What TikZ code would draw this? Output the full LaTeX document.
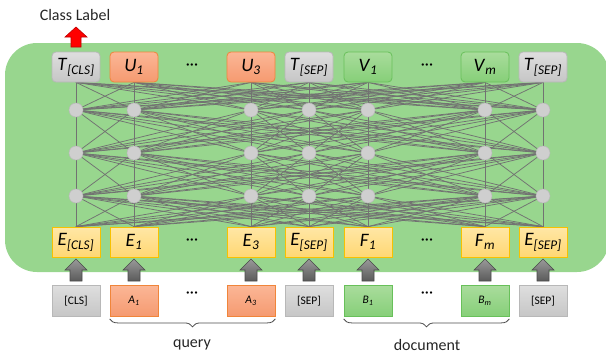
\documentclass[tikz,border=0pt]{standalone}
\usepackage{fontspec}
\setmainfont{Carlito}
\usetikzlibrary{decorations.pathreplacing,calc}
\definecolor{bggreen}{HTML}{98D68E}
\definecolor{lineg}{HTML}{727272}
\definecolor{grayT}{HTML}{DEDEDE}
\definecolor{grayB}{HTML}{C6C6C6}
\definecolor{grayD}{HTML}{B8B8B8}
\definecolor{orT}{HTML}{FBB696}
\definecolor{orB}{HTML}{F59A70}
\definecolor{orD}{HTML}{F0853A}
\definecolor{grT}{HTML}{A9DC9C}
\definecolor{grB}{HTML}{86CF78}
\definecolor{grD}{HTML}{68C05A}
\definecolor{yeT}{HTML}{FFE7A6}
\definecolor{yeB}{HTML}{FFD773}
\definecolor{yeD}{HTML}{F7C100}
\definecolor{arT}{HTML}{9A9A9A}
\definecolor{arB}{HTML}{5A5A5A}
\definecolor{arD}{HTML}{4A4A4A}
\pgfdeclarelayer{back}
\pgfsetlayers{back,main}
\begin{document}
\begin{tikzpicture}[x=1pt,y=-1pt,
  box/.style={minimum width=48pt,minimum height=30pt,inner sep=0pt,line width=0.8pt},
  tbox/.style={box,rounded corners=4pt},
  gbox/.style={top color=grayT,bottom color=grayB,draw=grayD},
  obox/.style={top color=orT,bottom color=orB,draw=orD},
  vbox/.style={top color=grT,bottom color=grB,draw=grD},
  ybox/.style={top color=yeT,bottom color=yeB,draw=yeD},
  big/.style={font=\fontsize{19}{20}\selectfont},
  small/.style={font=\fontsize{11.5}{12}\selectfont},
  neuron/.style={circle,minimum size=14pt,inner sep=0pt,fill=gray!38,draw=gray!55,line width=0.5pt},
  conn/.style={draw=lineg,line width=0.75pt},
  garr/.style={top color=arT,bottom color=arB,draw=arD,line width=0.6pt},
  lbl/.style={font=\fontsize{16}{18}\selectfont,text=black!85},
  dots/.style={font=\fontsize{16}{18}\selectfont}
]
\useasboundingbox (0,0) rectangle (606,356);
\begin{pgfonlayer}{back}
\fill[bggreen,rounded corners=32pt] (5,43) rectangle (609,272);
\end{pgfonlayer}

% top row
\node[tbox,gbox,big] (t1) at (76,67) {\textit{T}\textsubscript{\textit{[CLS]}}};
\node[tbox,obox,big] (t2) at (134,67) {\textit{U}\textsubscript{\textit{1}}};
\node[tbox,obox,big] (t3) at (251,67) {\textit{U}\textsubscript{\textit{3}}};
\node[tbox,gbox,big] (t4) at (309,67) {\textit{T}\textsubscript{\textit{[SEP]}}};
\node[tbox,vbox,big] (t5) at (368,67) {\textit{V}\textsubscript{\textit{1}}};
\node[tbox,vbox,big] (t6) at (485,67) {\textit{V}\textsubscript{\textit{m}}};
\node[tbox,gbox,big] (t7) at (543,67) {\textit{T}\textsubscript{\textit{[SEP]}}};
\node[dots] (td1) at (192,67) {···};
\node[dots] (td2) at (427,67) {···};

% embedding row
\node[box,ybox,big] (e1) at (76,242) {\textit{E}\textsubscript{\textit{[CLS]}}};
\node[box,ybox,big] (e2) at (134,242) {\textit{E}\textsubscript{\textit{1}}};
\node[box,ybox,big] (e3) at (251,242) {\textit{E}\textsubscript{\textit{3}}};
\node[box,ybox,big] (e4) at (309,242) {\textit{E}\textsubscript{\textit{[SEP]}}};
\node[box,ybox,big] (e5) at (368,242) {\textit{F}\textsubscript{\textit{1}}};
\node[box,ybox,big] (e6) at (485,242) {\textit{F}\textsubscript{\textit{m}}};
\node[box,ybox,big] (e7) at (543,242) {\textit{E}\textsubscript{\textit{[SEP]}}};
\node[dots] (ed1) at (192,242) {···};
\node[dots] (ed2) at (427,242) {···};

% input row
\node[box,gbox,small,minimum height=31pt] (i1) at (76,301) {[CLS]};
\node[box,obox,small,minimum height=31pt] (i2) at (134,301) {\textit{A}\textsubscript{\textit{1}}};
\node[box,obox,small,minimum height=31pt] (i3) at (251,301) {\textit{A}\textsubscript{\textit{3}}};
\node[box,gbox,small,minimum height=31pt] (i4) at (309,301) {[SEP]};
\node[box,vbox,small,minimum height=31pt] (i5) at (368,301) {\textit{B}\textsubscript{\textit{1}}};
\node[box,vbox,small,minimum height=31pt] (i6) at (485,301) {\textit{B}\textsubscript{\textit{m}}};
\node[box,gbox,small,minimum height=31pt] (i7) at (543,301) {[SEP]};
\node[dots] (id1) at (192,295) {···};
\node[dots] (id2) at (427,295) {···};

% neurons
\foreach \x [count=\i] in {76,134,251,309,368,485,543} {
  \foreach \y [count=\j] in {110,153,196} {
    \node[neuron] (c\j-\i) at (\x,\y) {};
  }
}

% connections
\begin{pgfonlayer}{back}
\foreach \i in {1,...,7} {
  \foreach \k in {1,...,7} {
    \draw[conn] (t\i.south) -- (c1-\k.center);
    \draw[conn] (c1-\i.center) -- (c2-\k.center);
    \draw[conn] (c2-\i.center) -- (c3-\k.center);
    \draw[conn] (c3-\i.center) -- (e\k.north);
  }
}
\end{pgfonlayer}

% gray input arrows
\foreach \x in {76,134,251,309,368,485,543} {
  \path[garr] (\x-6,281) -- (\x-6,270) -- (\x-11,270) -- (\x,259) -- (\x+11,270) -- (\x+6,270) -- (\x+6,281) -- cycle;
}

% class label arrow
\path[fill=red,draw=red!75!black,line width=0.6pt] (71,47) -- (71,37) -- (65,37) -- (76,27) -- (87,37) -- (81,37) -- (81,47) -- cycle;
\node[lbl] (cl) at (75,15) {Class Label};

% braces
\coordinate (q1) at ($(i2.south west)+(0,2)$);
\coordinate (q2) at ($(i3.south east)+(0,2)$);
\coordinate (d1) at ($(i5.south west)+(0,2)$);
\coordinate (d2) at ($(i6.south east)+(0,2)$);
\draw[black!70,line width=0.8pt,decorate,decoration={brace,mirror,amplitude=8pt}] (q1) -- (q2);
\draw[black!70,line width=0.8pt,decorate,decoration={brace,mirror,amplitude=8pt}] (d1) -- (d2);
\node[lbl] (ql) at (192,345) {query};
\node[lbl] (dl) at (427,345) {document};
\end{tikzpicture}
\end{document}
